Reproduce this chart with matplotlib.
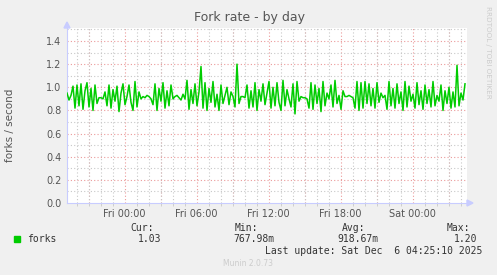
import matplotlib
matplotlib.use("Agg")
import matplotlib.pyplot as plt
from matplotlib.ticker import MultipleLocator
import numpy as np

# ---- data (10-minute samples, hours relative to Fri 00:00) ----
start_hour = -4.8
step_hours = 10 / 60.0
forks = [
    0.95, 0.89, 0.93, 1.01, 0.82, 1.02, 0.84, 1.03, 0.81, 0.97, 1.04, 0.83, 0.99, 0.80, 1.02, 0.86, 0.91, 0.91, 0.90, 0.96,
    0.84, 1.02, 0.82, 0.98, 0.88, 1.01, 0.79, 0.95, 1.03, 0.85, 0.92, 1.02, 0.87, 0.80, 1.05, 0.83, 0.96, 0.90, 0.92, 0.91,
    0.93, 0.92, 0.90, 0.85, 1.03, 0.80, 0.99, 0.88, 1.04, 0.82, 0.97, 0.84, 1.02, 0.90, 0.92, 0.93, 0.91, 0.89, 0.94, 0.90,
    1.06, 0.81, 0.98, 0.86, 1.03, 0.84, 0.96, 1.18, 0.82, 1.04, 0.80, 0.99, 0.87, 1.05, 0.83, 0.94, 0.80, 1.02, 0.86, 0.93,
    1.00, 0.85, 0.96, 0.92, 0.83, 1.20, 0.86, 0.92, 0.92, 0.91, 1.02, 0.82, 0.97, 0.83, 1.04, 0.80, 0.98, 0.88, 1.03, 0.85,
    0.95, 1.05, 0.82, 1.00, 0.84, 1.04, 0.87, 0.80, 1.06, 0.84, 0.98, 0.90, 0.83, 1.03, 0.77, 1.05, 0.88, 0.92, 0.91, 0.91,
    0.90, 0.82, 1.04, 0.81, 1.02, 0.86, 0.99, 0.79, 1.05, 0.84, 0.95, 0.90, 1.02, 0.83, 1.06, 0.86, 0.93, 0.81, 0.97, 0.92,
    0.92, 0.93, 0.92, 0.91, 0.82, 1.05, 0.80, 1.04, 0.82, 1.05, 0.86, 1.03, 0.84, 0.99, 0.82, 1.04, 0.87, 0.95, 0.91, 0.93,
    0.81, 1.05, 0.84, 0.99, 0.82, 1.03, 0.86, 0.96, 0.80, 1.05, 0.83, 1.01, 0.88, 0.94, 0.82, 1.04, 0.85, 0.97, 0.81, 1.02,
    0.86, 0.98, 0.83, 1.05, 0.84, 0.93, 0.88, 1.02, 0.80, 0.97, 0.86, 1.00, 0.82, 0.96, 0.83, 1.19, 0.84, 0.95, 0.89, 1.03,
]
x_tick_hours = [0, 6, 12, 18, 24]
x_tick_labels = ["Fri 00:00", "Fri 06:00", "Fri 12:00", "Fri 18:00", "Sat 00:00"]
y_ticks = [0.0, 0.2, 0.4, 0.6, 0.8, 1.0, 1.2, 1.4]
legend_name = "forks"
stats_labels = ["Cur:", "Min:", "Avg:", "Max:"]
stats_values = ["1.03", "767.98m", "918.67m", "1.20"]

hours = start_hour + step_hours * np.arange(len(forks))
x_end = start_hour + step_hours * len(forks)

W, H = 497, 275
fig = plt.figure(figsize=(W / 100, H / 100), dpi=100, facecolor="#F0F0F0")
ax = fig.add_axes([67 / W, (H - 203) / H, 400 / W, 175 / H], facecolor="white")

ax.set_xlim(start_hour, x_end)
ax.set_ylim(0, 1.5125)

# grids
grey = "#c8c8c8"
red = "#eb9a9a"
dot = (0, (1, 2))
ax.xaxis.set_minor_locator(MultipleLocator(1))
ax.yaxis.set_minor_locator(MultipleLocator(0.1))
ax.grid(which="minor", color=grey, linestyle=dot, linewidth=0.8)
ax.grid(which="major", visible=False)
for h in np.arange(-3, x_end, 3):
    ax.axvline(h, color=red, linestyle=dot, linewidth=0.8, zorder=1)
for v in y_ticks[1:]:
    ax.axhline(v, color=red, linestyle=dot, linewidth=0.8, zorder=1)

ax.plot(hours, forks, color="#00CC00", linewidth=1.1, zorder=3)

ax.set_xticks(x_tick_hours)
ax.set_xticklabels(x_tick_labels)
ax.set_yticks(y_ticks)
ax.set_yticklabels([f"{v:.1f}" for v in y_ticks])
ax.tick_params(axis="both", which="both", length=0, labelsize=7, labelcolor="#555555", pad=4)
ax.tick_params(axis="x", which="minor", length=2, color=grey)

for s in ["top", "right"]:
    ax.spines[s].set_visible(False)
axis_col = "#c8ccff"
ax.spines["left"].set_color(axis_col)
ax.spines["bottom"].set_color(axis_col)

# axis arrows
fig.patches.append(plt.Polygon([[67 / W - 3 / W, (H - 28) / H], [67 / W + 3 / W, (H - 28) / H], [67 / W, (H - 22) / H]],
                               closed=True, transform=fig.transFigure, color=axis_col))
fig.patches.append(plt.Polygon([[467 / W, (H - 200) / H], [467 / W, (H - 206) / H], [473 / W, (H - 203) / H]],
                               closed=True, transform=fig.transFigure, color=axis_col))

fig.text(250 / W, 1 - 17 / H, "Fork rate - by day", ha="center", va="center", fontsize=9, color="#555555")
fig.text(10 / W, 1 - 125 / H, "forks / second", rotation=90, ha="center", va="center", fontsize=7.5, color="#555555")
fig.text(488 / W, 1 - 6 / H, "RRDTOOL / TOBI OETIKER", rotation=270, ha="center", va="top", fontsize=5.2, color="#cccccc")

mono = "DejaVu Sans Mono"
fig.patches.append(plt.Rectangle((14 / W, 1 - 242 / H), 6 / W, 6 / H, transform=fig.transFigure, color="#00CC00"))
fig.text(27 / W, 1 - 239.5 / H, legend_name, ha="left", va="center", fontsize=7, family=mono, color="#333333")
label_right = [154, 258, 365, 470]
value_right = [161, 274, 378, 477]
for lab, lr, val, vr in zip(stats_labels, label_right, stats_values, value_right):
    fig.text(lr / W, 1 - 228 / H, lab, ha="right", va="center", fontsize=7, family=mono, color="#333333")
    fig.text(vr / W, 1 - 239.5 / H, val, ha="right", va="center", fontsize=7, family=mono, color="#333333")
fig.text(482 / W, 1 - 251.5 / H, "Last update: Sat Dec  6 04:25:10 2025", ha="right", va="center",
         fontsize=7, family=mono, color="#333333")
fig.text(248 / W, 1 - 264 / H, "Munin 2.0.73", ha="center", va="center", fontsize=5.5, color="#cccccc")

fig.savefig("out.png", dpi=100, facecolor=fig.get_facecolor())
